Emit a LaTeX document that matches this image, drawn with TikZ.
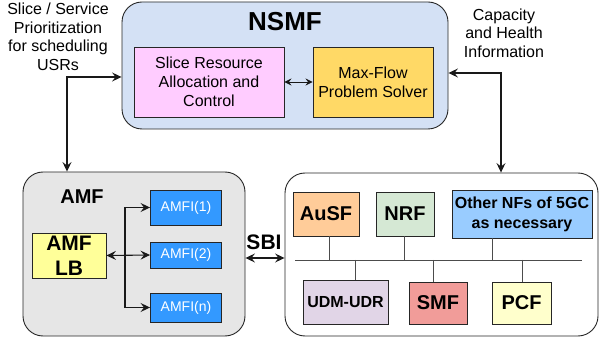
\documentclass[tikz,border=0pt]{standalone}
\usepackage{fontspec}
\setmainfont{Liberation Sans}
\usepackage{xcolor}
\usepackage{tikz}
\usetikzlibrary{positioning}
\usetikzlibrary{arrows,arrows.meta,shapes}
\usetikzlibrary{calc}
\definecolor{nsmfblue}{HTML}{D4E1F5}
\definecolor{srapink}{HTML}{FFCCFF}
\definecolor{mfsgold}{HTML}{FFD966}
\definecolor{amfgrey}{HTML}{E6E6E6}
\definecolor{lbyellow}{HTML}{FFFF99}
\definecolor{amfiblue}{HTML}{3399FF}
\definecolor{ausforange}{HTML}{FFCC99}
\definecolor{nrfgreen}{HTML}{D5E8D4}
\definecolor{othblue}{HTML}{99CCFF}
\definecolor{udmlilac}{HTML}{E1D5E7}
\definecolor{smfred}{HTML}{F19C99}
\definecolor{pcfyellow}{HTML}{FFFFCC}
\tikzstyle{groupbox}=[rectangle,draw=black!85,line width=0.9pt,rounded corners=20pt,inner sep=0pt]
\tikzstyle{fnbox}=[rectangle,draw=black!85,line width=0.9pt,align=center,inner sep=0pt]
\tikzstyle{nfbox}=[fnbox,font=\fontsize{20}{22}\selectfont\bfseries]
\tikzstyle{edge} = [draw,line width=1.1pt,black!90,<->]
\tikzstyle{busline} = [draw,line width=0.9pt,black!70]
\tikzstyle{weight} = [font=\fontsize{16}{18.5}\selectfont,align=center]
\tikzset{amfi/.style={fnbox,fill=amfiblue,text=white,minimum width=71pt,font=\fontsize{14}{16}\selectfont}}

\begin{document}
\begin{tikzpicture}[x=1pt,y=-1pt,>={Stealth[length=9.5pt,width=9pt,inset=3.5pt]}]

 \useasboundingbox (0,0) rectangle (600,339);

 %NSMF
 \node[groupbox,fill=nsmfblue,minimum width=326pt,minimum height=127pt] (nsmf) at (285,65.5) {};
 \node[font=\fontsize{26}{28}\selectfont\bfseries] (nsmftitle) at (285,22) {NSMF};
 \node[fnbox,fill=srapink,minimum width=150pt,minimum height=70pt,font=\fontsize{16}{19}\selectfont] (sra) at (209,82) {Slice Resource\\Allocation and\\Control};
 \node[fnbox,fill=mfsgold,minimum width=120pt,minimum height=70pt,font=\fontsize{16}{19}\selectfont] (mfs) at (373,82) {Max-Flow\\Problem Solver};
 \path[edge,line width=0.9pt,>={Stealth[length=7pt,width=7pt,inset=2.5pt]}] (sra.east) -- (mfs.west);

 \node[weight] (prio) at (58,37) {Slice / Service\\Prioritization\\for scheduling\\USRs};
 \node[weight] (cap) at (504,33) {Capacity\\and Health\\Information};

 %AMF
 \node[groupbox,fill=amfgrey,minimum width=222pt,minimum height=164pt] (amf) at (134,254) {};
 \node[font=\fontsize{20}{22}\selectfont\bfseries] (amftitle) at (82,197) {AMF};
 \node[nfbox,fill=lbyellow,minimum width=74pt,minimum height=45pt,font=\fontsize{21}{25}\selectfont\bfseries] (lb) at (69,255.5) {AMF\\LB};

 \foreach \y/\h/\name/\label in {207.5/35/amfi1/AMFI(1), 255/26/amfi2/AMFI(2), 307.5/29/amfin/AMFI(n)}
        \node[amfi,minimum height=\h pt] (\name) at (186,\y) {\label};

 \coordinate (fork) at (125,255);
 \path[edge] (lb.east) -- (amfi2.west);
 \draw[line width=1.1pt,black!90,->] (fork) -- (fork |- amfi1.west) -- (amfi1.west);
 \draw[line width=1.1pt,black!90,->] (fork) -- (fork |- amfin.west) -- (amfin.west);

 %5GC
 \node[groupbox,fill=white,minimum width=313pt,minimum height=163pt] (core) at (441.5,254.5) {};

 \foreach \x/\y/\w/\h/\name/\label/\col in {326/214/66/44/ausf/AuSF/ausforange, 405/214/58/44/nrf/NRF/nrfgreen,
        438/303/58/42/smf/SMF/smfred, 521.5/303/59/42/pcf/PCF/pcfyellow}
        \node[nfbox,fill=\col,minimum width=\w pt,minimum height=\h pt] (\name) at (\x,\y) {\label};

 \node[fnbox,fill=othblue,minimum width=140pt,minimum height=48pt,font=\fontsize{16}{20}\selectfont\bfseries] (oth) at (522,214) {Other NFs of 5GC\\as necessary};
 \node[fnbox,fill=udmlilac,minimum width=85pt,minimum height=44pt,font=\fontsize{16}{18}\selectfont\bfseries] (udm) at (345.5,302) {UDM-UDR};

 \coordinate (busl) at (295,260);
 \coordinate (busr) at (582,260);
 \path[busline] (busl) -- (busr);

 \foreach \x/\dest in {329/ausf, 404/nrf, 492/oth}
        \path[busline] (\x,260) -- (\x,0 |- \dest.south);
 \foreach \x/\dest in {355/udm, 433/smf, 522/pcf}
        \path[busline] (\x,260) -- (\x,0 |- \dest.north);

 \node[font=\fontsize{21}{23}\selectfont\bfseries] (sbi) at (264,242) {SBI};
 \path[edge] (amf.east |- 0,258) -- (core.west |- 0,258);

 %links to NSMF
 \coordinate (lcorner) at (67,77);
 \coordinate (rcorner) at (501,73);
 \path[edge] (lcorner -| nsmf.west) -- (lcorner) -- (lcorner |- amf.north);
 \path[edge] (rcorner -| nsmf.east) -- (rcorner) -- (rcorner |- core.north);

\end{tikzpicture}
\end{document}
